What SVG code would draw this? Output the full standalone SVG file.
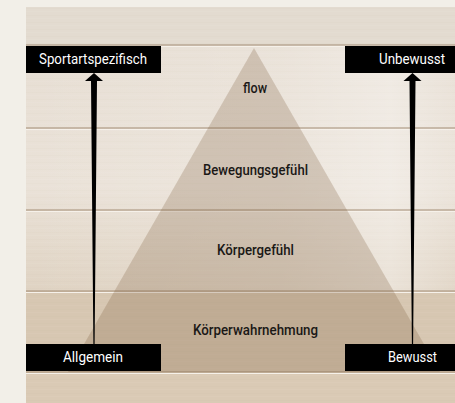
<svg xmlns="http://www.w3.org/2000/svg" width="455" height="403" viewBox="0 0 455 403">
  <defs>
    <linearGradient id="woodV" x1="0" y1="0" x2="0" y2="1">
      <stop offset="0" stop-color="#e6ddd2"/>
      <stop offset="0.45" stop-color="#eae2d8"/>
      <stop offset="0.75" stop-color="#ded1c0"/>
      <stop offset="1" stop-color="#d6c6b1"/>
    </linearGradient>
    <linearGradient id="glare" x1="0" y1="0" x2="1" y2="0">
      <stop offset="0" stop-color="#ffffff" stop-opacity="0"/>
      <stop offset="0.6" stop-color="#ffffff" stop-opacity="0.15"/>
      <stop offset="0.85" stop-color="#ffffff" stop-opacity="0.35"/>
      <stop offset="1" stop-color="#ffffff" stop-opacity="0.1"/>
    </linearGradient>
    <pattern id="grain" width="455" height="7" patternUnits="userSpaceOnUse">
      <line x1="0" y1="1.5" x2="455" y2="1.5" stroke="#9a8068" stroke-width="0.5" stroke-opacity="0.06"/>
      <line x1="0" y1="4.5" x2="455" y2="4.5" stroke="#ffffff" stroke-width="0.6" stroke-opacity="0.08"/>
    </pattern>
    <clipPath id="panel">
      <rect x="26" y="7" width="429" height="396"/>
    </clipPath>
  </defs>
  <style>
    .plank { stroke: #a48d77; stroke-width: 1.2; }
    .plankhi { stroke: #f6f1ea; stroke-width: 1; }
    .level { fill: #7a5a3a; fill-opacity: 0.25; }
    .lvtext { font-family: Roboto, "Liberation Sans", sans-serif; font-size: 14px; font-weight: 500; fill: #1a1816; text-anchor: middle; }
    .box { fill: #000000; }
    .boxtext { font-family: Roboto, "Liberation Sans", sans-serif; font-size: 14px; fill: #ffffff; text-anchor: middle; }
    .arrow { fill: #000000; }
  </style>

  <!-- page -->
  <rect x="0" y="0" width="455" height="403" fill="#f2efe8"/>

  <!-- wood panel -->
  <g id="wood" clip-path="url(#panel)">
    <rect x="26" y="7" width="429" height="396" fill="url(#woodV)"/>
    <rect x="26" y="7" width="429" height="38" fill="#e3dbd0"/>
    <rect x="26" y="291" width="429" height="81" fill="#d7c7b2"/>
    <rect x="26" y="372" width="429" height="31" fill="#dacab5"/>
    <rect x="26" y="7" width="429" height="396" fill="url(#grain)"/>
    <rect x="26" y="45" width="429" height="247" fill="url(#glare)"/>
    <line class="plank" x1="26" y1="45" x2="455" y2="45"/>
    <line class="plankhi" x1="26" y1="46.5" x2="455" y2="46.5"/>
    <line class="plank" x1="26" y1="128" x2="455" y2="128"/>
    <line class="plankhi" x1="26" y1="129.5" x2="455" y2="129.5"/>
    <line class="plank" x1="26" y1="210" x2="455" y2="210"/>
    <line class="plankhi" x1="26" y1="211.5" x2="455" y2="211.5"/>
    <line class="plank" x1="26" y1="291" x2="455" y2="291"/>
    <line class="plankhi" x1="26" y1="292.5" x2="455" y2="292.5"/>
    <line class="plank" x1="26" y1="372" x2="455" y2="372"/>
    <line class="plankhi" x1="26" y1="373.5" x2="455" y2="373.5"/>
  </g>

  <!-- pyramid levels -->
  <g id="level-flow">
    <polygon class="level" points="254,48 200.6,141 307.4,141"/>
    <text class="lvtext" x="255" y="93" textLength="24" lengthAdjust="spacingAndGlyphs">flow</text>
  </g>
  <g id="level-bewegungsgefuehl">
    <polygon class="level" points="200.6,141 307.4,141 347.5,211 160.5,211"/>
    <text class="lvtext" x="255.5" y="175" textLength="105" lengthAdjust="spacingAndGlyphs">Bewegungsgefühl</text>
  </g>
  <g id="level-koerpergefuehl">
    <polygon class="level" points="160.5,211 347.5,211 393.5,291 114.5,291"/>
    <text class="lvtext" x="255.5" y="255" textLength="77" lengthAdjust="spacingAndGlyphs">Körpergefühl</text>
  </g>
  <g id="level-koerperwahrnehmung">
    <polygon class="level" points="114.5,291 393.5,291 440,372 68,372"/>
    <text class="lvtext" x="255.5" y="335" textLength="125" lengthAdjust="spacingAndGlyphs">Körperwahrnehmung</text>
  </g>

  <!-- connectors -->
  <g id="connectors">
    <polygon class="arrow" points="94,73 103,81 97,81 94.6,344 93.4,344 91,81 85,81"/>
    <polygon class="arrow" points="412.5,73 421.5,81 415.5,81 413.1,344 411.9,344 409.5,81 403.5,81"/>
  </g>

  <!-- label boxes -->
  <g id="label-sportartspezifisch">
    <rect class="box" x="26" y="46" width="135" height="27"/>
    <text class="boxtext" x="93" y="64" textLength="108" lengthAdjust="spacingAndGlyphs">Sportartspezifisch</text>
  </g>
  <g id="label-unbewusst">
    <rect class="box" x="345" y="46" width="110" height="27"/>
    <text class="boxtext" x="412" y="64" textLength="66" lengthAdjust="spacingAndGlyphs">Unbewusst</text>
  </g>
  <g id="label-allgemein">
    <rect class="box" x="26" y="344" width="135" height="27"/>
    <text class="boxtext" x="93" y="362" textLength="60" lengthAdjust="spacingAndGlyphs">Allgemein</text>
  </g>
  <g id="label-bewusst">
    <rect class="box" x="345" y="344" width="110" height="27"/>
    <text class="boxtext" x="412.5" y="362" textLength="49" lengthAdjust="spacingAndGlyphs">Bewusst</text>
  </g>
</svg>
